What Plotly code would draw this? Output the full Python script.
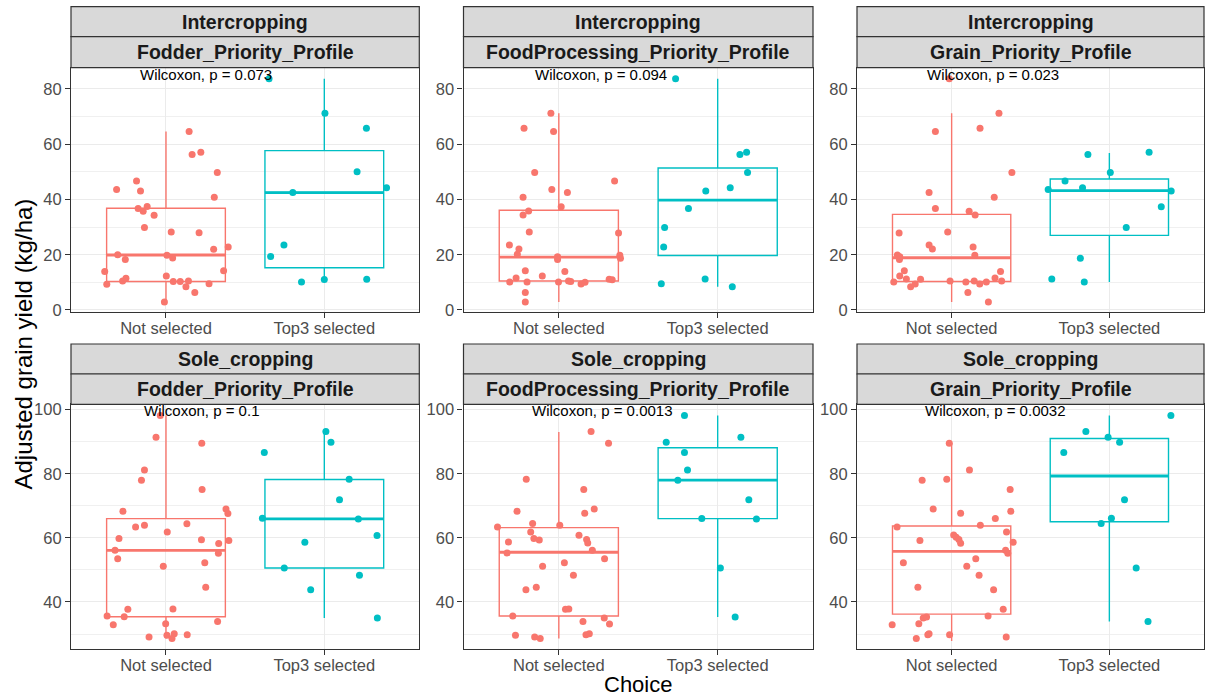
import plotly.graph_objects as go

# ---------------- data ----------------
cropping_rows = ["Intercropping", "Sole_cropping"]
profiles = ["Fodder_Priority_Profile", "FoodProcessing_Priority_Profile", "Grain_Priority_Profile"]
choices = ["Not selected", "Top3 selected"]
p_labels = ["Wilcoxon, p = 0.073", "Wilcoxon, p = 0.094", "Wilcoxon, p = 0.023",
            "Wilcoxon, p = 0.1", "Wilcoxon, p = 0.0013", "Wilcoxon, p = 0.0032"]

# Intercropping - Fodder
ic_fodder_ns = [64.6, 56.3, 57.1, 49.8, 46.7, 43.6, 43.1, 40.8, 36.7, 37.5, 35.7, 34.3, 29.9, 28.2, 28.0,
                22.0, 22.8, 20.0, 18.3, 19.8, 18.8, 13.9, 14.2, 9.3, 10.5, 11.5, 12.3, 10.3, 10.3, 10.5,
                8.4, 9.5, 6.3, 2.9]
ic_fodder_ns_jit = [0.146, 0.165, 0.220, 0.324, -0.186, -0.312, -0.161, 0.305, -0.176, -0.119, -0.144, -0.075,
                    -0.136, 0.033, 0.209, 0.301, 0.393, -0.305, -0.257, 0.006, 0.042, -0.387, 0.364, -0.374,
                    -0.274, -0.253, 0.002, 0.046, 0.090, 0.142, 0.126, 0.272, 0.182, -0.010]
ic_fodder_t3 = [83.7, 71.2, 65.8, 50.0, 44.2, 42.5, 23.5, 19.4, 10.1, 11.0, 11.1]
ic_fodder_t3_jit = [-0.349, 0.004, 0.266, 0.207, 0.393, -0.199, -0.255, -0.339, -0.144, 0.0, 0.268]

# Intercropping - FoodProcessing
ic_food_ns = [71.2, 65.8, 64.6, 49.8, 46.7, 43.6, 42.5, 40.8, 37.4, 35.8, 34.4, 28.2, 27.9, 23.5, 22.1,
              20.2, 19.3, 18.3, 19.8, 18.7, 14.2, 13.9, 11.6, 12.3, 10.1, 10.1, 10.1, 10.5, 10.3, 9.4,
              10.0, 11.1, 10.9, 6.3, 2.9]
ic_food_ns_jit = [-0.050, -0.219, -0.033, -0.152, 0.351, -0.044, 0.054, -0.225, 0.015, -0.190, -0.225, -0.186,
                  0.376, -0.311, -0.251, -0.261, -0.008, -0.008, 0.384, 0.388, -0.211, 0.038, -0.269, -0.104,
                  -0.309, -0.200, -0.002, 0.061, 0.075, 0.140, 0.165, 0.317, 0.336, -0.211, -0.211]
ic_food_t3 = [83.7, 56.3, 57.1, 49.8, 44.2, 43.1, 36.7, 29.9, 22.8, 9.5, 11.2, 8.4]
ic_food_t3_jit = [-0.265, 0.140, 0.182, 0.188, 0.079, -0.075, -0.184, -0.334, -0.340, -0.355, -0.079, 0.092]

# Intercropping - Grain
ic_grain_ns = [83.7, 71.2, 65.8, 64.6, 49.8, 42.5, 40.8, 36.7, 35.7, 34.4, 27.9, 28.2, 23.5, 22.1, 22.8,
               19.9, 19.3, 18.3, 19.8, 14.2, 12.3, 13.9, 11.2, 11.1, 10.1, 8.4, 9.4, 10.5, 10.1, 10.5,
               9.4, 10.1, 11.6, 10.5, 6.3, 2.9]
ic_grain_ns_jit = [-0.015, 0.300, 0.180, -0.103, 0.382, -0.143, 0.270, -0.103, 0.111, 0.149, -0.333, -0.025,
                   -0.143, -0.122, 0.136, -0.344, -0.329, -0.331, 0.147, -0.300, -0.329, 0.310, -0.287, -0.197,
                   -0.367, -0.260, -0.231, -0.010, 0.090, 0.143, 0.178, 0.220, 0.275, 0.317, 0.103, 0.233]
ic_grain_t3 = [56.3, 57.1, 49.8, 46.7, 43.6, 44.2, 43.1, 37.4, 29.9, 18.7, 11.2, 10.1]
ic_grain_t3_jit = [-0.136, 0.252, 0.006, -0.281, -0.388, -0.170, 0.392, 0.329, 0.107, -0.184, -0.365, -0.159]

# Sole cropping - Fodder
sc_fodder_ns = [98.2, 91.4, 89.5, 81.2, 78.0, 75.1, 69.0, 67.6, 68.3, 63.4, 63.9, 64.4, 61.8, 59.8, 59.4,
                58.2, 59.2, 56.1, 53.5, 55.2, 52.2, 51.1, 44.6, 37.7, 37.8, 35.6, 35.4, 32.9, 33.2, 33.9,
                29.1, 29.6, 30.1, 28.6, 29.8]
sc_fodder_ns_jit = [-0.036, -0.063, 0.226, -0.136, -0.155, 0.228, 0.379, 0.391, -0.272, -0.192, -0.136, 0.132,
                    0.008, -0.297, 0.224, 0.333, 0.397, -0.322, -0.305, 0.331, 0.245, -0.017, 0.251, -0.241,
                    0.044, -0.372, -0.264, -0.333, -0.002, 0.326, -0.107, 0.006, 0.052, 0.038, 0.134]
sc_fodder_t3 = [93.2, 89.8, 86.6, 78.3, 71.9, 66.1, 65.9, 60.7, 58.6, 50.6, 48.3, 43.8, 35.0]
sc_fodder_t3_jit = [0.010, 0.042, -0.379, 0.157, 0.096, -0.391, 0.215, 0.333, -0.123, -0.253, 0.222, -0.086, 0.335]

# Sole cropping - FoodProcessing
sc_food_ns = [93.2, 89.5, 78.3, 75.1, 68.3, 67.7, 69.0, 63.4, 64.5, 63.9, 61.8, 60.8, 58.7, 59.8, 59.3,
              59.5, 58.4, 56.1, 55.3, 53.5, 52.2, 51.1, 48.3, 43.8, 44.6, 37.7, 37.8, 35.6, 35.0, 33.9,
              33.1, 29.6, 29.1, 28.6, 29.8, 30.1]
sc_food_ns_jit = [0.203, 0.313, -0.205, 0.157, -0.263, 0.163, 0.223, -0.386, -0.165, 0.006, -0.177, 0.127,
                  -0.317, -0.157, -0.123, 0.175, 0.182, 0.211, -0.326, 0.288, 0.035, -0.102, 0.092, -0.207,
                  -0.142, 0.042, 0.063, -0.290, 0.286, 0.152, 0.319, -0.273, -0.152, -0.117, 0.171, 0.192]
sc_food_t3 = [98.2, 89.8, 91.4, 86.6, 81.2, 78.0, 71.9, 66.0, 65.9, 50.6, 35.3]
sc_food_t3_jit = [-0.209, -0.324, 0.146, -0.209, -0.190, -0.251, 0.196, -0.100, 0.244, 0.017, 0.110]

# Sole cropping - Grain
sc_grain_ns = [89.5, 81.2, 78.0, 78.3, 75.1, 69.0, 68.3, 67.7, 66.0, 63.4, 63.9, 60.9, 60.2, 59.5, 58.3,
               59.2, 61.8, 58.6, 56.1, 55.2, 52.2, 53.5, 51.1, 48.3, 44.6, 43.8, 37.7, 35.6, 35.0, 35.3,
               32.9, 33.2, 29.8, 30.1, 29.8, 28.6, 29.1]
sc_grain_ns_jit = [-0.015, 0.113, -0.187, -0.031, 0.371, -0.117, 0.375, 0.057, 0.277, -0.346, 0.182, 0.013,
                   0.029, 0.046, 0.057, -0.201, 0.348, 0.390, 0.342, 0.356, -0.306, 0.153, 0.096, 0.174,
                   -0.214, 0.266, 0.327, 0.231, -0.180, -0.159, -0.377, -0.208, -0.151, -0.143, -0.013,
                   -0.224, 0.346]
sc_grain_t3 = [98.2, 93.2, 91.4, 89.8, 86.6, 71.9, 66.1, 64.5, 50.6, 33.9]
sc_grain_t3_jit = [0.390, -0.149, -0.008, 0.065, -0.289, 0.096, 0.013, -0.052, 0.170, 0.245]

# Box statistics per panel (panel order: IC fodder, IC food, IC grain, SC fodder, SC food, SC grain)
ns_lower = [2.9, 2.9, 2.9, 28.6, 28.6, 27.8]
ns_q1 = [10.3, 10.5, 10.3, 35.4, 35.6, 36.2]
ns_median = [19.9, 19.1, 18.9, 56.1, 55.5, 55.8]
ns_q3 = [36.8, 36.1, 34.6, 66.0, 63.2, 63.7]
ns_upper = [64.6, 71.2, 71.2, 98.2, 93.0, 89.5]

t3_lower = [10.9, 8.4, 10.1, 35.0, 35.3, 33.9]
t3_q1 = [15.3, 19.7, 27.0, 50.6, 66.0, 65.0]
t3_median = [42.5, 39.8, 43.2, 65.9, 78.0, 79.3]
t3_q3 = [57.7, 51.4, 47.4, 78.2, 88.1, 91.0]
t3_upper = [83.7, 83.7, 56.8, 93.2, 98.2, 98.2]

ns_points = [ic_fodder_ns, ic_food_ns, ic_grain_ns, sc_fodder_ns, sc_food_ns, sc_grain_ns]
ns_jitter = [ic_fodder_ns_jit, ic_food_ns_jit, ic_grain_ns_jit, sc_fodder_ns_jit, sc_food_ns_jit, sc_grain_ns_jit]
t3_points = [ic_fodder_t3, ic_food_t3, ic_grain_t3, sc_fodder_t3, sc_food_t3, sc_grain_t3]
t3_jitter = [ic_fodder_t3_jit, ic_food_t3_jit, ic_grain_t3_jit, sc_fodder_t3_jit, sc_food_t3_jit, sc_grain_t3_jit]

# ---------------- layout / style ----------------
W, H = 1206, 699
FONT = "Liberation Sans, Arial, Helvetica, sans-serif"
COLORS = ["#F8766D", "#00BFC4"]
BOX_W = 0.75

col_left = [71, 463.5, 857]
col_right = [419.3, 813, 1204]
row_top = [67.7, 404.3]
row_bottom = [312.3, 649.3]
strip_outer = [(6.7, 36.7), (344.0, 374.0)]
strip_inner = [(36.7, 67.7), (374.0, 404.3)]
row_yrange = [[-0.84, 87.7], [25.23, 101.66]]
row_ticks = [[0, 20, 40, 60, 80], [40, 60, 80, 100]]
row_label_y = [85.4, 99.7]
label_x = [0.825, 0.836, 0.831, 0.850, 0.821, 0.821]


def px_x(v):
    return v / W


def px_y(v):
    return 1 - v / H


fig = go.Figure()
layout = dict(
    template="none",
    width=W, height=H,
    margin=dict(l=0, r=0, t=0, b=0, pad=0),
    paper_bgcolor="white", plot_bgcolor="white",
    showlegend=False,
    font=dict(family=FONT),
)
shapes = []
annotations = []

for k in range(6):
    r, c = divmod(k, 3)
    sfx = "" if k == 0 else str(k + 1)
    xa, ya = "x" + sfx, "y" + sfx

    # boxes
    stats = [(ns_lower, ns_q1, ns_median, ns_q3, ns_upper),
             (t3_lower, t3_q1, t3_median, t3_q3, t3_upper)]
    for g in range(2):
        lo, q1, md, q3, hi = stats[g]
        fig.add_trace(go.Box(
            x=[g + 1], q1=[q1[k]], median=[md[k]], q3=[q3[k]],
            lowerfence=[lo[k]], upperfence=[hi[k]],
            width=BOX_W, boxpoints=False, whiskerwidth=0,
            fillcolor="rgba(255,255,255,0)",
            line=dict(color=COLORS[g], width=1.4),
            xaxis=xa, yaxis=ya, hoverinfo="skip"))
        # thicker median line (ggplot fatten)
        fig.add_trace(go.Scatter(
            x=[g + 1 - BOX_W / 2, g + 1 + BOX_W / 2], y=[md[k], md[k]],
            mode="lines", line=dict(color=COLORS[g], width=2.8),
            xaxis=xa, yaxis=ya, hoverinfo="skip"))

    # jittered points
    for g, (pts, jit) in enumerate([(ns_points[k], ns_jitter[k]), (t3_points[k], t3_jitter[k])]):
        fig.add_trace(go.Scatter(
            x=[g + 1 + j for j in jit], y=pts, mode="markers",
            marker=dict(color=COLORS[g], size=7, line=dict(width=0)),
            xaxis=xa, yaxis=ya, hoverinfo="skip"))

    x_dom = [px_x(col_left[c]), px_x(col_right[c])]
    y_dom = [px_y(row_bottom[r]), px_y(row_top[r])]
    layout["xaxis" + sfx] = dict(
        domain=x_dom, anchor=ya, range=[0.4, 2.6], automargin=False,
        tickvals=[1, 2], ticktext=choices,
        showgrid=True, gridcolor="#EBEBEB", gridwidth=1.4, zeroline=False,
        showline=True, mirror=True, linecolor="#333333", linewidth=1.2,
        ticks="outside", ticklen=5, tickwidth=1.2, tickcolor="#333333",
        ticklabelstandoff=-4,
        tickfont=dict(family=FONT, size=16.5, color="#4D4D4D"),
    )
    layout["yaxis" + sfx] = dict(
        domain=y_dom, anchor=xa, range=row_yrange[r], automargin=False,
        tickvals=row_ticks[r],
        showgrid=True, gridcolor="#EBEBEB", gridwidth=1.4, zeroline=False,
        minor=dict(tick0=0, dtick=10, showgrid=True, gridcolor="#F0F0F0", gridwidth=0.8, ticks=""),
        showline=True, mirror=True, linecolor="#333333", linewidth=1.2,
        ticks="outside", ticklen=5, tickwidth=1.2, tickcolor="#333333",
        tickfont=dict(family=FONT, size=16.5, color="#4D4D4D"),
    )

    # strips
    for (t0, t1), txt in [(strip_outer[r], cropping_rows[r]), (strip_inner[r], profiles[c])]:
        shapes.append(dict(type="rect", xref="paper", yref="paper",
                           x0=px_x(col_left[c]), x1=px_x(col_right[c]),
                           y0=px_y(t1), y1=px_y(t0),
                           fillcolor="#D9D9D9", line=dict(color="#333333", width=1.2), layer="above"))
        annotations.append(dict(xref="paper", yref="paper",
                                x=px_x((col_left[c] + col_right[c]) / 2), y=px_y((t0 + t1) / 2),
                                text="<b>%s</b>" % txt, showarrow=False,
                                xanchor="center", yanchor="middle",
                                font=dict(family=FONT, size=19.5, color="#1A1A1A")))

    # Wilcoxon label
    annotations.append(dict(xref=xa, yref=ya, x=label_x[k], y=row_label_y[r],
                            text=p_labels[k], showarrow=False,
                            xanchor="left", yanchor="middle",
                            font=dict(family=FONT, size=15, color="black")))

# axis titles
annotations.append(dict(xref="paper", yref="paper", x=px_x(22.5), y=px_y(344),
                        text="Adjusted grain yield (kg/ha)", textangle=-90, showarrow=False,
                        xanchor="center", yanchor="middle",
                        font=dict(family=FONT, size=24, color="black")))
annotations.append(dict(xref="paper", yref="paper", x=px_x(637.5), y=px_y(684),
                        text="Choice", showarrow=False,
                        xanchor="center", yanchor="middle",
                        font=dict(family=FONT, size=22, color="black")))

layout["shapes"] = shapes
layout["annotations"] = annotations
fig.update_layout(**layout)
fig.write_html(
    "out.html",
    config={"displayModeBar": False},
    post_script="document.body.style.margin='0px';document.body.style.padding='0px';"
                "document.body.style.overflow='hidden';",
)
